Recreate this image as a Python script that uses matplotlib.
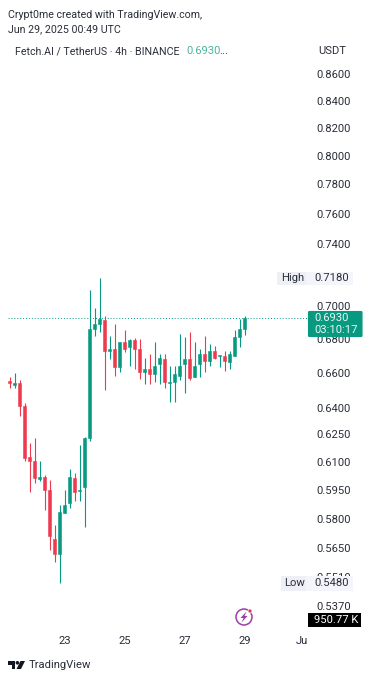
import numpy as np
import matplotlib
matplotlib.use("Agg")
import matplotlib.pyplot as plt
from matplotlib.patches import Rectangle, FancyBboxPatch, Polygon, Circle

plt.rcParams["font.family"] = ["Roboto", "Liberation Sans", "DejaVu Sans"]

#4h candles, Jun 21 to Jun 29
opens = [0.6550, 0.6532, 0.6541, 0.6411, 0.6128, 0.6102, 0.6009, 0.6021, 0.5950, 0.5697, 0.5620, 0.5829,
         0.5880, 0.6013, 0.5944, 0.5963, 0.6229, 0.6863, 0.6892, 0.6914, 0.6731, 0.6741, 0.6632, 0.6782,
         0.6754, 0.6792, 0.6741, 0.6602, 0.6622, 0.6593, 0.6652, 0.6681, 0.6538, 0.6548, 0.6583, 0.6652,
         0.6681, 0.6573, 0.6652, 0.6710, 0.6671, 0.6731, 0.6700, 0.6700, 0.6661, 0.6702, 0.6812, 0.6863]
highs = [0.6577, 0.6601, 0.6560, 0.6428, 0.6201, 0.6229, 0.6102, 0.6030, 0.6000, 0.5769, 0.5871, 0.5950,
         0.6063, 0.6040, 0.6192, 0.6238, 0.7101, 0.6989, 0.7180, 0.6942, 0.6820, 0.6894, 0.6784, 0.6853,
         0.6802, 0.6806, 0.6802, 0.6690, 0.6712, 0.6782, 0.6712, 0.6712, 0.6642, 0.6638, 0.6833, 0.6813,
         0.6843, 0.6782, 0.6741, 0.6820, 0.6772, 0.6759, 0.6704, 0.6731, 0.6731, 0.6853, 0.6922, 0.6943]
lows = [0.6513, 0.6513, 0.6350, 0.6102, 0.5941, 0.5986, 0.5995, 0.5846, 0.5641, 0.5581, 0.5480, 0.5829,
        0.5855, 0.5893, 0.5893, 0.5757, 0.6214, 0.6820, 0.6841, 0.6501, 0.6681, 0.6583, 0.6602, 0.6722,
        0.6642, 0.6624, 0.6564, 0.6535, 0.6535, 0.6544, 0.6536, 0.6511, 0.6434, 0.6434, 0.6556, 0.6486,
        0.6560, 0.6573, 0.6573, 0.6602, 0.6642, 0.6681, 0.6632, 0.6612, 0.6622, 0.6702, 0.6751, 0.6823]
closes = [0.6542, 0.6539, 0.6411, 0.6123, 0.6102, 0.6013, 0.6016, 0.5950, 0.5713, 0.5621, 0.5837, 0.5871,
          0.6021, 0.5941, 0.5950, 0.6229, 0.6863, 0.6892, 0.6922, 0.6731, 0.6741, 0.6632, 0.6782, 0.6741,
          0.6792, 0.6741, 0.6602, 0.6622, 0.6593, 0.6642, 0.6690, 0.6544, 0.6544, 0.6591, 0.6642, 0.6681,
          0.6570, 0.6642, 0.6710, 0.6671, 0.6731, 0.6690, 0.6704, 0.6671, 0.6710, 0.6812, 0.6863, 0.6930]

price_ticks = [0.86, 0.84, 0.82, 0.80, 0.78, 0.76, 0.74, 0.70, 0.68, 0.66, 0.64, 0.625,
               0.61, 0.595, 0.58, 0.565, 0.551, 0.537]
date_ticks = [11, 23, 35, 47, 58.5]
date_labels = ["23", "25", "27", "29", "Ju"]

GREEN = "#089981"
RED = "#ee3a4e"
TEXT = "#2a2e39"
SIZE = 8.1
HEAD = 7.7

fig = plt.figure(figsize=(3.75, 6.8), dpi=100, facecolor="white")

#price pane, 5px per candle, log scale
ax = fig.add_axes([0, 1 - 628 / 680, 307 / 375, (628 - 60) / 680])
ax.set_yscale("log")
ax.set_xlim(-1.92, 59.48)
ax.set_ylim(0.5265, 0.8707)

o = np.array(opens)
h = np.array(highs)
l = np.array(lows)
c = np.array(closes)
x = np.arange(len(o))
cols = [GREEN if b >= a else RED for a, b in zip(o, c)]

ax.hlines(c[-1], -0.35, 59.48, color=GREEN, lw=0.7, linestyles=(0, (1, 2)), zorder=1)
ax.vlines(x, l, h, color=cols, lw=0.8, zorder=2)
ax.bar(x, np.abs(c - o), bottom=np.minimum(o, c), width=0.72, color=cols, edgecolor=cols, lw=0.4, zorder=3)

ax.yaxis.tick_right()
ax.set_yticks(price_ticks, [f"{p:.4f}" for p in price_ticks])
ax.minorticks_off()
ax.set_xticks(date_ticks, date_labels)
ax.tick_params(axis="y", length=0, pad=7, labelsize=SIZE, labelcolor=TEXT)
ax.tick_params(axis="x", length=0, pad=6, labelsize=SIZE, labelcolor=TEXT)
for s in ax.spines.values():
    s.set_visible(False)

#everything around the pane, in pixel coords
ov = fig.add_axes([0, 0, 1, 1], zorder=5)
ov.set_xlim(0, 375)
ov.set_ylim(680, 0)
ov.axis("off")

ov.text(8, 15, "Crypt0me created with TradingView.com,", fontsize=HEAD, color=TEXT, va="center")
ov.text(8, 29, "Jun 29, 2025 00:49 UTC", fontsize=HEAD, color=TEXT, va="center")
ov.text(15, 51.5, "Fetch.AI / TetherUS · 4h · BINANCE", fontsize=HEAD, color=TEXT, va="center")
ov.text(186, 51.5, "0.6930", fontsize=SIZE, color="#4fb3a0", va="center")
ov.text(219.5, 51.5, "...", fontsize=SIZE, color=TEXT, va="center")
ov.text(318, 51, "USDT", fontsize=SIZE, color=TEXT, va="center")

#high / low boxes
ov.add_patch(Rectangle((277, 271.5), 29, 13, fc="#eef0f6", ec="none"))
ov.add_patch(Rectangle((306, 271.5), 47, 13, fc="#f3f5fa", ec="none"))
ov.text(281, 278, "High", fontsize=SIZE, color=TEXT, va="center")
ov.text(314.5, 278, "0.7180", fontsize=SIZE, color=TEXT, va="center")
ov.add_patch(Rectangle((281, 576), 25, 15, fc="#eef0f6", ec="none"))
ov.add_patch(Rectangle((306, 576), 47, 15, fc="#f3f5fa", ec="none"))
ov.text(284, 583.5, "Low", fontsize=SIZE, color=TEXT, va="center")
ov.text(314.5, 583.5, "0.5480", fontsize=SIZE, color=TEXT, va="center")

#last price box
ov.add_patch(FancyBboxPatch((308.5, 311.5), 53.5, 25, boxstyle="round,pad=0,rounding_size=1", fc=GREEN, ec=GREEN, lw=0.8))
ov.text(314.5, 318, "0.6930", fontsize=SIZE, color="#e8f7f3", va="center")
ov.text(314.5, 330, "03:10:17", fontsize=SIZE, color="#e8f7f3", va="center")

#volume box
ov.add_patch(Rectangle((308, 613), 53, 14, fc="black", ec="none"))
ov.text(314.5, 620, "950.77 K", fontsize=SIZE, color="white", va="center")

#bolt icon
ov.add_patch(Circle((244, 617), 8, fc="white", ec="#9c3fa8", lw=1.1))
ov.add_patch(Polygon([(246.5, 611.5), (240.5, 618), (243.5, 618), (241.5, 622.5), (247.5, 616), (244.5, 616)],
                     fc="#9c3fa8", ec="none"))
ov.add_patch(Circle((250, 611), 2, fc="#d9365f", ec="white", lw=0.5))

#TradingView logo
ov.add_patch(Polygon([(8, 661), (15, 661), (15, 669), (11.5, 669), (11.5, 664.5), (8, 664.5)], fc="#131722", ec="none"))
ov.add_patch(Circle((17.4, 662.8), 1.8, fc="#131722", ec="none"))
ov.add_patch(Polygon([(20.5, 661), (25, 661), (21, 669), (16.5, 669)], fc="#131722", ec="none"))
ov.text(28.5, 665.2, "TradingView", fontsize=8.1, color=TEXT, va="center")

fig.savefig("out.png", dpi=100)
